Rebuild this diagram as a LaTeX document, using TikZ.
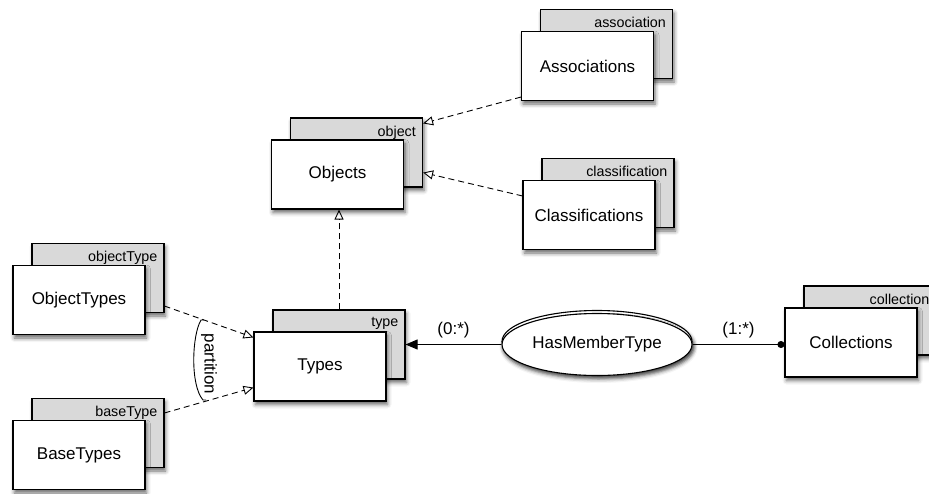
\documentclass[tikz,border=0pt]{standalone}
\usepackage{fontspec}
\setmainfont{Liberation Sans}
\usetikzlibrary{arrows.meta,shapes.geometric,shadows.blur,calc}

\begin{document}
\begin{tikzpicture}[x=1pt,y=-1pt]
\tikzstyle{every node}+=[inner sep=0pt]
\tikzstyle{boxshadow}=[blur shadow={shadow xshift=1.5pt,shadow yshift=-3.5pt,shadow blur radius=4pt,shadow opacity=60}]
\tikzstyle{backbox}=[draw=black,line width=1.1pt,fill=black!15,minimum width=132pt,minimum height=69pt,boxshadow]
\tikzstyle{frontbox}=[draw=black,line width=1.1pt,fill=white,minimum width=132pt,minimum height=69pt,boxshadow,font=\fontsize{17}{20}\selectfont]
\tikzstyle{tagtext}=[anchor=north east,font=\fontsize{14.3}{17}\selectfont]
\tikzstyle{bigtext}=[font=\fontsize{17}{20}\selectfont]
\tikzstyle{relation}=[ellipse,draw=black,line width=1.1pt,fill=white,minimum width=190pt,minimum height=62pt,boxshadow,font=\fontsize{17}{20}\selectfont]
\tikzstyle{isa}=[line width=0.9pt,dash pattern=on 6pt off 4pt,-{Triangle[open,length=10pt,width=9pt]}]
\useasboundingbox (0,0) rectangle (929,493);
\clip (0,0) rectangle (929,493);
% stacked boxes: back (gray) first, then front
\node[backbox] (assocBk) at (606.5,44) {};
\node[tagtext] (assocTag) at ($(assocBk.north east)+(-7,8)$) {association};
\node[frontbox] (assoc) at (587.5,66) {Associations};
\node[backbox] (objectBk) at (356.5,152.5) {};
\node[tagtext] (objectTag) at ($(objectBk.north east)+(-7,8)$) {object};
\node[frontbox] (object) at (337.5,174.5) {Objects};
\node[backbox] (classifBk) at (608,193) {};
\node[tagtext] (classifTag) at ($(classifBk.north east)+(-7,8)$) {classification};
\node[frontbox] (classif) at (589,215) {Classifications};
\node[backbox] (objTypeBk) at (98,278) {};
\node[tagtext] (objTypeTag) at ($(objTypeBk.north east)+(-7,8)$) {objectType};
\node[frontbox] (objType) at (79,300) {ObjectTypes};
\node[backbox] (baseTypeBk) at (98,433) {};
\node[tagtext] (baseTypeTag) at ($(baseTypeBk.north east)+(-7,8)$) {baseType};
\node[frontbox] (baseType) at (79,455) {BaseTypes};
\node[backbox] (typesBk) at (339,344.5) {};
\node[tagtext] (typesTag) at ($(typesBk.north east)+(-7,8)$) {type};
\node[frontbox] (types) at (320,366.5) {Types};
\node[backbox] (collBk) at (870,320.5) {};
\node[tagtext] (collTag) at ($(collBk.north east)+(-7,8)$) {collection};
\node[frontbox] (coll) at (851,342.5) {Collections};
% relationship
\node[relation] (hmtBk) at (597,341.5) {};
\node[relation] (hmt) at (597,344.5) {HasMemberType};
% generalisations
\draw[isa] ($(assoc.south west)+(0,-4)$) -- ($(objectBk.north east)+(0,6)$);
\draw[isa] ($(classif.north west)+(0,16)$) -- ($(objectBk.south east)+(0,-15)$);
\draw[isa] (typesBk.north) -- (typesBk.north |- object.south);
\draw[isa] ($(objTypeBk.south east)+(0,-7)$) -- ($(types.north west)+(0,6)$);
\draw[isa] ($(baseTypeBk.north east)+(0,15)$) -- ($(types.south west)+(0,-14)$);
% partition brace
\coordinate (partTop) at (201,320);
\coordinate (partBot) at (203,400);
\draw[line width=0.9pt] ($(partTop)+(3,0)$) -- (partTop) .. controls (192,335) and (190,385) .. (partBot) -- ++(3,0);
\node[bigtext,rotate=-90] (partLbl) at (209,364) {partition};
% member type links
\draw[line width=0.9pt,-{Triangle[length=12pt,width=10pt]}] (hmt.west) -- node[bigtext,above=6pt] (zeroMany) {(0:*)} (hmt.west -| typesBk.east);
\draw[line width=0.9pt,-{Circle[length=7pt]}] (hmt.east) -- node[bigtext,above=6pt] (oneMany) {(1:*)} (hmt.east -| coll.west);
\end{tikzpicture}
\end{document}
